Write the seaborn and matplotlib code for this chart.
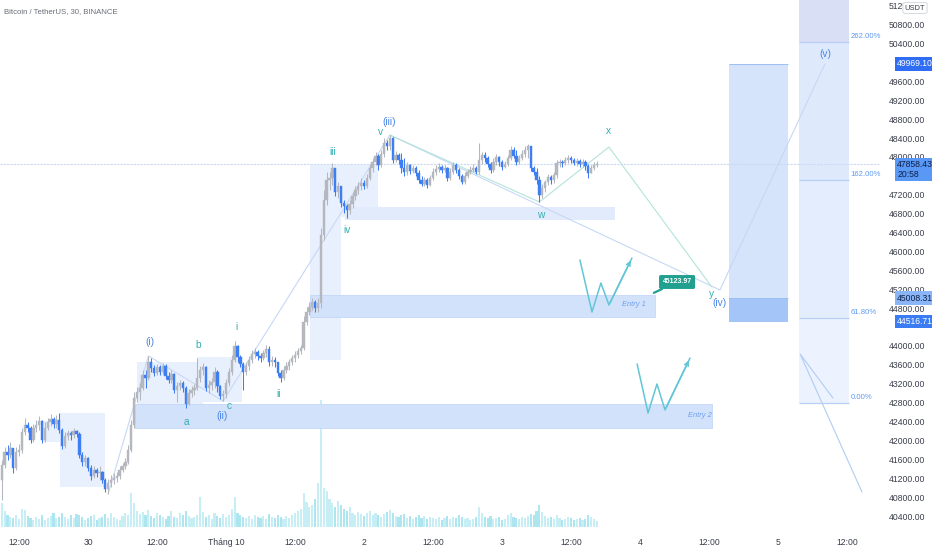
import numpy as np
import pandas as pd
import matplotlib
matplotlib.use("Agg")
import matplotlib.pyplot as plt
import matplotlib.transforms as mtransforms
from matplotlib.patches import Rectangle
import seaborn as sns

sns.set_theme(style="white")
plt.rcParams['font.family'] = ['Liberation Sans', 'DejaVu Sans']

# ---------------- data (30-minute candles, index 0 = 30 Sep 00:00) ----------------
candle_index = list(range(-30, 178))
first_open = 41164
close = [
41482, 41757, 41693, 41841, 41418, 41757, 41799, 42180, 42328, 42264,
42011, 42264, 42328, 42413, 42011, 42264, 42391, 42455, 42349, 42434,
42222, 41884, 42095, 42159, 42116, 42201, 42138, 41693, 41545, 41630,
41418, 41249, 41376, 41312, 41333, 41164, 40974, 41101, 41164, 41206,
41249, 41376, 41460, 41545, 41799, 42328, 42899, 43026, 43111, 43386,
43323, 43661, 43534, 43428, 43555, 43450, 43576, 43365, 43280, 43407,
43069, 43153, 43217, 43111, 42772, 43005, 43069, 43111, 43323, 43492,
43555, 43111, 43174, 43238, 43450, 43153, 42942, 42984, 43217, 43450,
43703, 44000, 43767, 43619, 43450, 43576, 43703, 43830, 43873, 43788,
43746, 43852, 43936, 43661, 43703, 43661, 43428, 43323, 43492, 43576,
43661, 43746, 43809, 43894, 43957, 44508, 44719, 44825, 44931, 44804,
44910, 46348, 47089, 47512, 47554, 47766, 47258, 47385, 47026, 46962,
46877, 47004, 47174, 47301, 47385, 47449, 47385, 47554, 47766, 47893,
48020, 47830, 48062, 48295, 48232, 48401, 47935, 48041, 47935, 47766,
47681, 47830, 47703, 47766, 47660, 47512, 47428, 47512, 47406, 47554,
47681, 47745, 47787, 47724, 47766, 47554, 47681, 47830, 47724, 47597,
47470, 47597, 47681, 47724, 47766, 47681, 47935, 48041, 47978, 47851,
47724, 47893, 47999, 47893, 47787, 47851, 47978, 48147, 48020, 47893,
47978, 48062, 48147, 48232, 47766, 47681, 47512, 47195, 47343, 47470,
47576, 47512, 47618, 47872, 47893, 47872, 47935, 47978, 47935, 47872,
47914, 47851, 47893, 47808, 47660, 47766, 47830, 47858.43]
high = [
41587, 41862, 41905, 41968, 41799, 41862, 41926, 42264, 42476, 42391,
42307, 42349, 42434, 42518, 42434, 42391, 42476, 42561, 42497, 42540,
42582, 42264, 42180, 42222, 42201, 42264, 42222, 42180, 41757, 41693,
41651, 41482, 41460, 41418, 41460, 41355, 41206, 41185, 41270, 41312,
41333, 41460, 41524, 41630, 41905, 42434, 43026, 43132, 43217, 43492,
43492, 43788, 43746, 43598, 43619, 43598, 43640, 43619, 43450, 43492,
43428, 43238, 43280, 43259, 43153, 43090, 43153, 43196, 43746, 43576,
43640, 43576, 43280, 43323, 43555, 43492, 43174, 43069, 43301, 43534,
43809, 44105, 44021, 43809, 43661, 43661, 43788, 43915, 43957, 43915,
43852, 43915, 44021, 44000, 43788, 43767, 43661, 43492, 43576, 43661,
43725, 43809, 43894, 43957, 44021, 44634, 44825, 44931, 45015, 44973,
45015, 46497, 47301, 47681, 47681, 47872, 47724, 47470, 47343, 47089,
47004, 47089, 47258, 47385, 47470, 47554, 47512, 47639, 47851, 47978,
48105, 48062, 48147, 48401, 48359, 48464, 48422, 48126, 48084, 48084,
47978, 47893, 47851, 47830, 47808, 47724, 47597, 47576, 47554, 47618,
47766, 47830, 47872, 47830, 47830, 47787, 47766, 47893, 47872, 47766,
47639, 47681, 47745, 47808, 47851, 47808, 48295, 48105, 48105, 48020,
47893, 47978, 48062, 48020, 47935, 47914, 48041, 48232, 48210, 48147,
48041, 48147, 48232, 48274, 48189, 47808, 47766, 47597, 47428, 47512,
47639, 47618, 47681, 47935, 47957, 47935, 47999, 48041, 48020, 47978,
47978, 47957, 47957, 47935, 47851, 47830, 47893, 47914]
low = [
40741, 41418, 41587, 41630, 41312, 41376, 41672, 41736, 42116, 42180,
41947, 41968, 42180, 42222, 41947, 41968, 42222, 42307, 42264, 42264,
42159, 41820, 41841, 42011, 42011, 42053, 42074, 41630, 41460, 41460,
41355, 41164, 41206, 41228, 41164, 41101, 40910, 40868, 41016, 41080,
41122, 41185, 41333, 41397, 41503, 41757, 42264, 42815, 42857, 43069,
43111, 43280, 43450, 43365, 43386, 43386, 43407, 43301, 43217, 43217,
43005, 42815, 43069, 43026, 42688, 42751, 42920, 42963, 43069, 43238,
43386, 43047, 43005, 43069, 43111, 43026, 42878, 42836, 42899, 43153,
43386, 43661, 43661, 43555, 43069, 43386, 43492, 43640, 43746, 43703,
43661, 43703, 43767, 43576, 43576, 43555, 43365, 43238, 43280, 43428,
43492, 43598, 43661, 43746, 43830, 43915, 44444, 44656, 44761, 44719,
44719, 44804, 46243, 46983, 47301, 47406, 47174, 47131, 46941, 46814,
46708, 46793, 46920, 47089, 47216, 47301, 47322, 47343, 47512, 47681,
47830, 47724, 47787, 47999, 48147, 48147, 47872, 47893, 47851, 47660,
47597, 47618, 47639, 47660, 47597, 47449, 47385, 47385, 47343, 47385,
47512, 47618, 47681, 47660, 47681, 47491, 47512, 47639, 47660, 47533,
47428, 47428, 47554, 47639, 47681, 47639, 47639, 47851, 47893, 47787,
47660, 47681, 47830, 47808, 47724, 47766, 47808, 47935, 47978, 47830,
47851, 47935, 47999, 47978, 47703, 47618, 47428, 47047, 47131, 47258,
47406, 47428, 47449, 47554, 47787, 47787, 47830, 47872, 47872, 47830,
47808, 47787, 47787, 47724, 47554, 47660, 47724, 47787]
volume = [
720, 480, 360, 300, 270, 360, 240, 540, 510, 330,
270, 210, 300, 240, 360, 210, 270, 330, 420, 270,
300, 420, 300, 240, 360, 270, 390, 360, 300, 210,
270, 330, 360, 210, 270, 300, 390, 270, 420, 300,
240, 210, 330, 420, 360, 1050, 720, 480, 390, 450,
360, 510, 330, 270, 420, 360, 300, 240, 330, 480,
300, 270, 420, 360, 480, 330, 270, 300, 360, 900,
450, 300, 360, 240, 420, 330, 270, 390, 300, 360,
540, 900, 420, 360, 300, 270, 330, 240, 360, 300,
270, 330, 240, 390, 300, 270, 360, 300, 240, 330,
270, 360, 420, 480, 540, 1050, 750, 600, 660, 840,
1350, 3870, 1200, 1110, 840, 720, 600, 780, 660, 540,
480, 600, 420, 360, 450, 390, 330, 420, 480, 360,
420, 360, 300, 390, 450, 510, 420, 330, 300, 360,
390, 270, 330, 240, 300, 360, 270, 330, 240, 300,
270, 240, 300, 210, 270, 330, 240, 300, 270, 360,
300, 240, 270, 210, 240, 300, 600, 420, 300, 270,
330, 240, 270, 300, 210, 240, 360, 420, 300, 270,
240, 300, 270, 330, 390, 360, 480, 660, 450, 330,
270, 300, 240, 360, 270, 210, 240, 300, 270, 210,
240, 270, 210, 240, 360, 300, 240, 180]

# time axis
time_tick_pos = [-24, 0, 24, 48, 72, 96, 120, 144, 168, 192, 216, 240, 264]
time_tick_labels = ["12:00", "30", "12:00", "Tháng 10", "12:00", "2", "12:00", "3",
                    "12:00", "4", "12:00", "5", "12:00"]
price_ticks = list(range(40400, 51201, 400))
hidden_price_ticks = [50000, 47600, 44400]   # covered by price badges in the chart

# Elliott wave drawing points (candle index, price)
main_wave_t = [7, 21, 47, 105, 219.8, 256.3]
main_wave_p = [40870, 43790, 42836, 48464, 45185, 49969]
sub_wave_t = [105, 157, 181.2, 217]
sub_wave_p = [48464, 47047, 48210, 45248]
zig1_t = [171.1, 175.3, 178.4, 181.2, 189.2]
zig1_p = [45820, 44719, 45333, 44867, 45862]
zig2_t = [191.0, 194.8, 197.9, 200.7, 209.4]
zig2_p = [43619, 42582, 43196, 42646, 43746]

# wave labels: text, candle index, price, kind
wave_labels = [("(i)", 21.6, 44084, "deg"), ("b", 38.3, 44021, "sub"), ("a", 34.4, 42391, "sub"),
               ("c", 49.0, 42730, "sub"), ("(ii)", 46.6, 42518, "deg"), ("i", 51.5, 44402, "sub"),
               ("ii", 66.4, 42984, "sub"), ("iii", 85.2, 48105, "sub"), ("iv", 90.1, 46455, "sub"),
               ("v", 101.9, 48528, "sub"), ("(iii)", 104.7, 48740, "deg"), ("w", 157.6, 46772, "sub"),
               ("x", 181.2, 48549, "sub"), ("y", 217.0, 45100, "sub"), ("(iv)", 219.5, 44910, "deg"),
               ("(v)", 256.3, 50178, "deg")]

# zones: t0, t1, price low, price high
zone_entry2 = (16.3, 217.0, 42265, 42772)
zone_entry1 = (77.2, 197.2, 44613, 45079)
zone_w = (89.4, 183.3, 46666, 46941)
light_boxes = [(-15.7, -7.0, 41968, 42413), (-9.7, 5.9, 41016, 42582),
               (17.0, 40.0, 42688, 43661), (37.9, 53.6, 42815, 43767),
               (77.2, 88.0, 43703, 47830), (88.0, 100.9, 46729, 47830)]
target_box = (223.0, 243.5, 44516.71, 49969.10)
target_entry = (44516.71, 45008.31)
fib_box_t = (247.3, 264.7)
fib_ratio = [0.0, 0.618, 1.62, 2.62]
fib_labels = ["0.00%", "61.80%", "162.00%", "262.00%"]
fib_base, fib_unit = 42790, 2920
fib_diag_t = [259.1, 247.7, 269.2]
fib_diag_p = [42900, 43830, 40910]
callout_price = 45123.97
last_price = 47858.43

# ---------------- figure ----------------
W, H = 932, 550
fig = plt.figure(figsize=(W / 100, H / 100), dpi=100)
fig.patch.set_facecolor("white")
ax = fig.add_axes([0, 23 / H, 880 / W, 527 / H])
axv = ax.twinx()
ax.set_zorder(axv.get_zorder() + 1)
ax.patch.set_visible(False)

t = np.array(candle_index, dtype=float)
c = np.array(close, dtype=float)
o = np.array([first_open] + close[:-1], dtype=float)
hi = np.maximum(np.array(high, dtype=float), np.maximum(o, c))
lo = np.minimum(np.array(low, dtype=float), np.minimum(o, c))
up = c >= o
up_col, dn_col = "#b4b7be", "#3d7ef4"
cols = np.where(up, up_col, dn_col)

# volume
vcols = np.where(up, "#c6eef4", "#ade6ee")
axv.bar(t, volume, width=0.72, color=vcols, linewidth=0)
axv.set_ylim(0, 3870 * 527 / 127)
axv.set_yticks([])
for s in axv.spines.values():
    s.set_visible(False)

# zones
def box(a, t0, t1, p0, p1, fc, z=1, ec="none", lw=0):
    a.add_patch(Rectangle((t0, p0), t1 - t0, p1 - p0, fc=fc, ec=ec, lw=lw, zorder=z))

for b in light_boxes:
    box(ax, *b, fc="#e9f0fd", z=1)
box(ax, *zone_entry2, fc="#d3e2fb", z=1.2, ec="#c3d7f8", lw=0.6)
box(ax, *zone_entry1, fc="#d3e2fb", z=1.2, ec="#c3d7f8", lw=0.6)
box(ax, *zone_w, fc="#e2ebfc", z=1.2)
box(ax, target_box[0], target_box[1], target_box[2], target_box[3], fc="#d5e3fb", z=1.2)
box(ax, target_box[0], target_box[1], target_entry[0], target_entry[1], fc="#a4c5f8", z=1.3)
ax.hlines([target_entry[1], target_box[3]], target_box[0], target_box[1], colors="#9dbff5", lw=0.7, zorder=1.4)

fib_levels = [fib_base + r * fib_unit for r in fib_ratio]
fib_fill = ["#edf3fe", "#e4edfd", "#dfe9fc"]
for k in range(3):
    box(ax, fib_box_t[0], fib_box_t[1], fib_levels[k], fib_levels[k + 1], fc=fib_fill[k], z=1.1)
box(ax, fib_box_t[0], fib_box_t[1], fib_levels[3], 51600, fc="#d9dff4", z=1.1)
ax.hlines(fib_levels, fib_box_t[0], fib_box_t[1], colors="#b7cff5", lw=0.9, zorder=1.5)
for lv, lab in zip(fib_levels, fib_labels):
    ax.text(fib_box_t[1] + 0.6, lv + 110, lab, fontsize=5.6, color="#5f9bf0", va="center", ha="left", zorder=6)
ax.plot(fib_diag_t, fib_diag_p, color="#b0cdf3", lw=0.8, zorder=1.6)

# current price line
ax.axhline(last_price, color="#c9d9f6", lw=0.8, ls=(0, (2, 1)), zorder=1.5)

# candles
ax.vlines(t, lo, hi, colors=cols, lw=0.75, zorder=3)
body = np.maximum(np.abs(c - o), 14)
ax.bar(t, body, bottom=np.minimum(o, c), width=0.82, color=cols, edgecolor=cols, linewidth=0.3, zorder=3.2)

# wave lines (seaborn)
main_df = pd.DataFrame({"t": main_wave_t, "price": main_wave_p})
sub_df = pd.DataFrame({"t": sub_wave_t, "price": sub_wave_p})
sns.lineplot(data=main_df, x="t", y="price", sort=False, estimator=None, color="#c6d8f6", lw=0.8, ax=ax, zorder=2)
sns.lineplot(data=sub_df, x="t", y="price", sort=False, estimator=None, color="#b5e3dc", lw=0.8, ax=ax, zorder=2)
for zt, zp in ((zig1_t, zig1_p), (zig2_t, zig2_p)):
    zdf = pd.DataFrame({"t": zt, "price": zp})
    sns.lineplot(data=zdf, x="t", y="price", sort=False, estimator=None, color="#62c6d6", lw=1.1, ax=ax, zorder=4)
    ax.annotate("", xy=(zt[-1], zp[-1]), xytext=(zt[-2], zp[-2]),
                arrowprops=dict(arrowstyle="->", color="#62c6d6", lw=1.1, mutation_scale=7), zorder=4)

# wave labels
for txt, lt, lp, kind in wave_labels:
    ax.text(lt, lp, txt, fontsize=7.3, color=("#4a86e8" if kind == "deg" else "#32aeb0"),
            ha="center", va="center", zorder=6)

ax.text(190, 44868, "Entry 1", fontsize=5.4, style="italic", color="#6f9ff0", ha="center", va="center", zorder=6)
ax.text(212.9, 42519, "Entry 2", fontsize=5.4, style="italic", color="#6f9ff0", ha="center", va="center", zorder=6)

ax.annotate(f"{callout_price:.2f}", xy=(196.8, callout_price), xytext=(204.9, 45354),
            fontsize=5.0, color="white", fontweight="bold", ha="center", va="center",
            bbox=dict(boxstyle="round,pad=0.5,rounding_size=0.25", fc="#22a08f", ec="none"),
            arrowprops=dict(arrowstyle="-", color="#22a08f", lw=1.6, shrinkA=0, shrinkB=0), zorder=7)

# axes
ax.set_xlim(-88 / 2.875, 792 / 2.875)
ax.set_ylim(51321 - 21.16 * 527, 51321)
ax.set_xlabel("")
ax.set_ylabel("")
for s in ax.spines.values():
    s.set_visible(False)
ax.set_xticks(time_tick_pos)
ax.set_xticklabels(time_tick_labels)
ax.yaxis.tick_right()
ax.set_yticks(price_ticks)
ax.set_yticklabels(["" if p in hidden_price_ticks else f"{p:.2f}" for p in price_ticks])
ax.tick_params(axis="y", length=0, pad=6, labelsize=6.2, labelcolor="#3a3e4a")
ax.tick_params(axis="x", length=0, pad=8, labelsize=6.2, labelcolor="#3a3e4a")
ax.grid(False)
axv.grid(False)

# price badges
tr = mtransforms.blended_transform_factory(ax.transAxes, ax.transData)
def badge(price, txt, fc, tc):
    ax.text(1.0195, price, txt, transform=tr, fontsize=6.2, color=tc, ha="left", va="center",
            bbox=dict(boxstyle="square,pad=0.28", fc=fc, ec="none"), clip_on=False, zorder=10,
            linespacing=1.05)

badge(49969.10, "49969.10", "#2f6df5", "white")
badge(last_price - 125, "47858.43\n20:58", "#5a98f6", "#0f1f45")
badge(45008.31, "45008.31", "#8ab6f8", "#0f1f45")
badge(44516.71, "44516.71", "#3a7cf4", "white")

fig.text(915 / W, 1 - 8 / H, "USDT", fontsize=5.4, color="#3a3e4a", ha="center", va="center",
         bbox=dict(boxstyle="round,pad=0.25", fc="white", ec="#cfd2d8", lw=0.6), zorder=12)
fig.text(4 / W, 1 - 12 / H, "Bitcoin / TetherUS, 30, BINANCE", fontsize=5.6, color="#6a6d78",
         ha="left", va="center")

fig.savefig("out.png", dpi=100, facecolor="white")
